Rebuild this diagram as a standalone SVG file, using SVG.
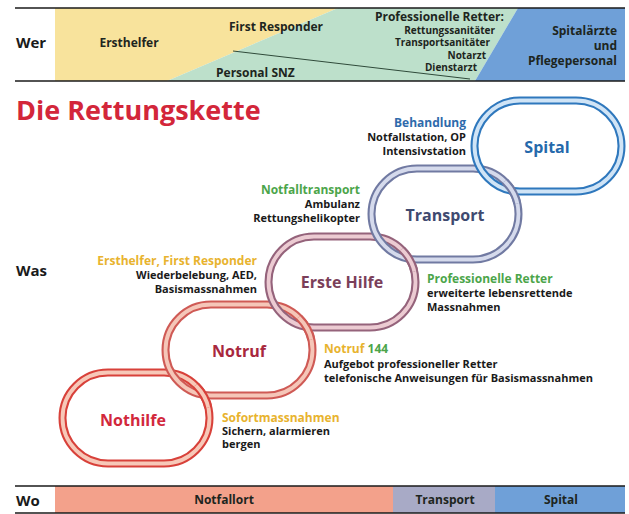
<svg xmlns="http://www.w3.org/2000/svg" xmlns:xlink="http://www.w3.org/1999/xlink" width="629" height="514" viewBox="0 0 629 514">
<style>
text{font-family:"Open Sans","Noto Sans","Liberation Sans",sans-serif;font-weight:700}
.hd{font-size:15px;fill:#1a1a1a}
.band{font-size:12px;fill:#1d2520}
.sm{font-size:10px;fill:#1d2520}
.rl{font-size:16px;text-anchor:middle}
.lab{font-size:12px}
.sub{font-size:11px;fill:#1a1a1a}
.end{text-anchor:end}
.mid{text-anchor:middle}
.yel{fill:#e8b32e}
.grn{fill:#4ca54a}
.blu{fill:#2e6aab}
.o{fill:none;stroke-width:8}
.i{fill:none;stroke-width:3.8}
.rule{stroke:#1a1a1a;stroke-width:1.6}
</style>
<defs>
<g id="s1"><rect class="o" stroke="#d8413a" x="62.5" y="372.5" width="147" height="91" rx="45.5"/><rect class="i" stroke="#f7c8b8" x="62.5" y="372.5" width="147" height="91" rx="45.5"/></g>
<g id="s2"><rect class="o" stroke="#cf5a55" x="165.5" y="304.5" width="147" height="91" rx="45.5"/><rect class="i" stroke="#f5c6b8" x="165.5" y="304.5" width="147" height="91" rx="45.5"/></g>
<g id="s3"><rect class="o" stroke="#95637b" x="268.5" y="236.5" width="147" height="91" rx="45.5"/><rect class="i" stroke="#eccbd2" x="268.5" y="236.5" width="147" height="91" rx="45.5"/></g>
<g id="s4"><rect class="o" stroke="#717aa2" x="371.5" y="168.5" width="147" height="91" rx="45.5"/><rect class="i" stroke="#d5daec" x="371.5" y="168.5" width="147" height="91" rx="45.5"/></g>
<g id="s5"><rect class="o" stroke="#2f78bd" x="474.5" y="100.5" width="147" height="91" rx="45.5"/><rect class="i" stroke="#d0e4f6" x="474.5" y="100.5" width="147" height="91" rx="45.5"/></g>
<clipPath id="k1"><circle cx="203.5" cy="395.5" r="13"/></clipPath>
<clipPath id="k2"><circle cx="306.5" cy="327.5" r="13"/></clipPath>
<clipPath id="k3"><circle cx="409.5" cy="259.5" r="13"/></clipPath>
<clipPath id="k4"><circle cx="512.5" cy="191.5" r="13"/></clipPath>
</defs>
<rect width="629" height="514" fill="#ffffff"/>

<g id="wer-band">
<polygon points="55,8 338,8 167,81 55,81" fill="#f8e39c"/>
<polygon points="338,8 518,8 475,81 167,81" fill="#bde0cb"/>
<polygon points="518,8 625,8 625,81 475,81" fill="#6fa0d8"/>
<line x1="233" y1="51" x2="470" y2="79" stroke="#2f4a3a" stroke-width="1"/>
<line class="rule" x1="15" y1="8" x2="625" y2="8"/>
<line class="rule" x1="15" y1="81" x2="625" y2="81"/>
<text class="hd" x="16" y="48">Wer</text>
<text class="band" x="129" y="47" text-anchor="middle">Ersthelfer</text>
<text class="band" x="229" y="31">First Responder</text>
<text class="band" x="216" y="77">Personal SNZ</text>
<text class="band end" x="504" y="21">Professionelle Retter:</text>
<text class="sm end" x="495" y="34">Rettungssanitäter</text>
<text class="sm end" x="490" y="46">Transportsanitäter</text>
<text class="sm end" x="486" y="59">Notarzt</text>
<text class="sm end" x="477" y="71">Dienstarzt</text>
<text class="band end" x="617" y="35">Spitalärzte</text>
<text class="band end" x="617" y="50">und</text>
<text class="band end" x="617" y="65">Pflegepersonal</text>
</g>

<text id="title" x="16" y="120" font-size="27" fill="#d3263a">Die Rettungskette</text>
<text id="was" class="hd" x="16" y="276">Was</text>

<g id="nothilfe">
<use xlink:href="#s1"/>
<text class="rl" x="133" y="426" fill="#d2283c">Nothilfe</text>
</g>
<g id="notruf">
<use xlink:href="#s2"/>
<text class="rl" x="239" y="357" fill="#a8283e">Notruf</text>
</g>
<g id="erste-hilfe">
<use xlink:href="#s3"/>
<text class="rl" x="342" y="288" fill="#7b3f5a">Erste Hilfe</text>
</g>
<g id="transport">
<use xlink:href="#s4"/>
<text class="rl" x="445" y="221" fill="#3f4a70">Transport</text>
</g>
<g id="spital">
<use xlink:href="#s5"/>
<text class="rl" x="547" y="153" fill="#2569ab">Spital</text>
</g>

<g id="connectors">
<use xlink:href="#s1" clip-path="url(#k1)"/>
<use xlink:href="#s2" clip-path="url(#k2)"/>
<use xlink:href="#s3" clip-path="url(#k3)"/>
<use xlink:href="#s4" clip-path="url(#k4)"/>
</g>

<g id="label-spital">
<text class="lab blu end" x="466" y="127">Behandlung</text>
<text class="sub end" x="466" y="141" font-size="10.5">Notfallstation, OP</text>
<text class="sub end" x="466" y="155" font-size="10.5">Intensivstation</text>
</g>
<g id="label-transport">
<text class="lab grn end" x="360" y="194">Notfalltransport</text>
<text class="sub end" x="360" y="208" font-size="10.5">Ambulanz</text>
<text class="sub end" x="360" y="222" font-size="10.5">Rettungshelikopter</text>
</g>
<g id="label-erste-hilfe">
<text class="lab yel end" x="257" y="265">Ersthelfer, First Responder</text>
<text class="sub end" x="257" y="279">Wiederbelebung, AED,</text>
<text class="sub end" x="257" y="293">Basismassnahmen</text>
</g>
<g id="label-professionelle">
<text class="lab grn" x="427" y="283">Professionelle Retter</text>
<text class="sub" x="427" y="297">erweiterte lebensrettende</text>
<text class="sub" x="427" y="311">Massnahmen</text>
</g>
<g id="label-notruf">
<text class="lab" x="324" y="353"><tspan class="yel">Notruf</tspan> <tspan class="grn">144</tspan></text>
<text class="sub" x="324" y="368">Aufgebot professioneller Retter</text>
<text class="sub" x="324" y="382">telefonische Anweisungen für Basismassnahmen</text>
</g>
<g id="label-nothilfe">
<text class="lab yel" x="222" y="422">Sofortmassnahmen</text>
<text class="sub" x="222" y="435">Sichern, alarmieren</text>
<text class="sub" x="222" y="448">bergen</text>
</g>

<g id="wo-band">
<rect x="55" y="486" width="338" height="27" fill="#f3a18b"/>
<rect x="393" y="486" width="102" height="27" fill="#a8aac6"/>
<rect x="495" y="486" width="130" height="27" fill="#6fa0d8"/>
<line class="rule" x1="15" y1="486" x2="625" y2="486"/>
<line class="rule" x1="15" y1="513" x2="625" y2="513"/>
<text class="hd" x="16" y="506">Wo</text>
<text class="band mid" x="224" y="504" fill="#2a2024">Notfallort</text>
<text class="band mid" x="445" y="504" fill="#1d2230">Transport</text>
<text class="band mid" x="561" y="504" fill="#1d2230">Spital</text>
</g>
</svg>
